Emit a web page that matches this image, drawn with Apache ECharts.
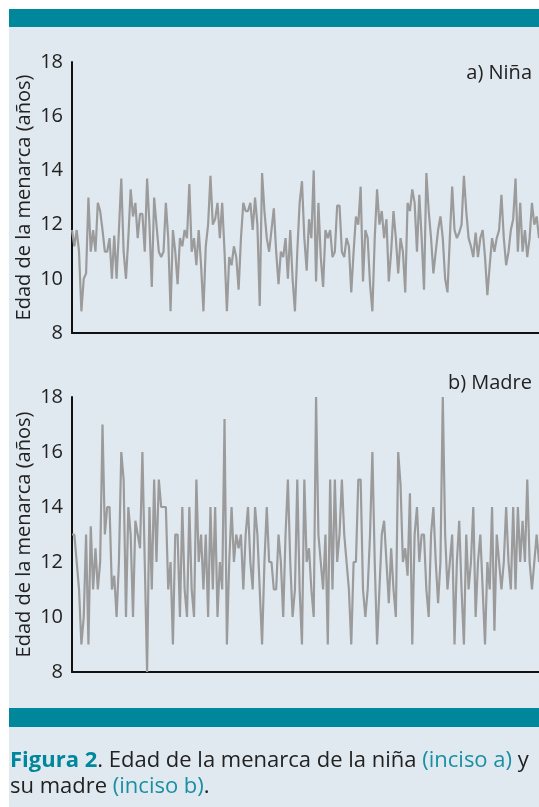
<!DOCTYPE html>
<html>
<head>
<meta charset="utf-8">
<script src="https://cdn.jsdelivr.net/npm/echarts@6/dist/echarts.min.js"></script>
<style>
  html, body { margin: 0; padding: 0; background: #fff; }
  #chart { width: 539px; height: 807px; }
</style>
</head>
<body>
<div id="chart"></div>
<script>
// edad de la menarca, niña (inciso a)
const ninaValues = [
  11.8, 11.2, 11.8, 11.0, 8.8, 10.0, 10.2, 13.0, 11.0, 11.8,
  11.0, 12.8, 12.5, 11.8, 11.0, 11.0, 11.5, 10.0, 11.6, 10.0,
  11.8, 13.7, 11.0, 10.0, 11.5, 13.3, 12.3, 12.8, 11.5, 12.4,
  12.4, 11.0, 13.7, 12.0, 9.7, 13.0, 12.0, 11.0, 10.8, 11.0,
  12.8, 11.5, 8.8, 11.8, 11.0, 9.8, 11.5, 11.2, 11.8, 11.5,
  13.5, 11.0, 11.5, 10.5, 11.8, 10.5, 8.8, 11.2, 12.0, 13.8,
  12.0, 12.2, 12.8, 11.5, 12.8, 11.0, 8.8, 10.8, 10.5, 11.2,
  10.8, 9.6, 11.5, 12.8, 12.5, 12.5, 12.8, 11.8, 13.0, 12.0,
  9.0, 13.9, 12.5, 11.5, 11.0, 11.8, 12.6, 11.0, 9.8, 11.0,
  10.8, 11.5, 10.0, 11.8, 10.0, 8.8, 11.0, 12.8, 13.6, 11.5,
  10.3, 12.2, 11.5, 14.0, 9.9, 12.8, 10.8, 9.7, 11.8, 11.5,
  11.8, 10.8, 11.0, 12.7, 12.7, 11.0, 10.8, 11.5, 11.2, 9.5,
  11.0, 12.3, 12.0, 13.4, 9.9, 11.8, 11.5, 9.8, 8.8, 11.5,
  13.3, 12.0, 12.5, 11.5, 12.2, 9.9, 11.0, 12.5, 11.5, 10.2,
  11.5, 11.0, 9.5, 12.8, 12.5, 13.3, 12.8, 11.0, 13.1, 11.5,
  9.6, 13.9, 12.5, 11.5, 10.2, 11.0, 11.8, 12.3, 11.5, 10.0,
  9.5, 11.5, 13.4, 11.8, 11.5, 11.7, 12.0, 13.8, 12.5, 11.5,
  11.2, 10.8, 11.7, 10.8, 11.5, 11.8, 10.8, 9.4, 10.5, 11.5,
  11.0, 11.5, 11.8, 13.1, 11.5, 10.5, 11.0, 11.8, 12.2, 13.7,
  11.0, 12.8, 11.0, 11.8, 10.8, 11.5, 12.8, 12.0, 12.3, 11.5
];

// edad de la menarca, madre (inciso b)
const madreValues = [
  13, 13, 12, 11, 9, 10, 13, 9, 13.3, 11,
  12.5, 11, 12, 17, 13, 14, 14, 11, 11.5, 10,
  12, 16, 15, 10, 14, 13, 10, 13.5, 13, 12.5,
  16, 12, 8, 14, 11, 15, 12, 15, 14, 14,
  14, 11, 12, 9, 13, 13, 10, 14, 11, 10,
  14, 11, 10, 15, 12, 13, 11, 13, 10, 14,
  11, 14, 10, 12, 11, 17.2, 9, 12, 14, 12,
  13, 12.5, 13, 11, 13, 14, 12, 11, 14, 13,
  11, 9, 12, 14, 12, 12, 11, 11, 13, 12,
  10, 13, 15, 12, 10, 11, 15, 11, 9, 15,
  12, 12.5, 11, 10, 18, 13, 12, 11, 13, 9,
  15, 11, 15, 12, 13, 15, 13, 12, 11, 9,
  12, 12, 15, 15, 11, 10, 11, 13, 16, 12,
  9, 11, 13, 13.5, 12, 10.5, 12.5, 11, 10, 16,
  14.8, 12, 12.5, 11.5, 14.5, 9, 13, 14, 12, 13,
  13, 11, 10, 13, 14, 12, 10.5, 12, 18, 13,
  11, 12, 13, 9, 12, 13.5, 11, 9, 13, 11,
  12, 14, 10, 12, 13, 11, 9, 12, 11, 14,
  9.5, 13, 12, 11, 12, 14, 12, 11, 14, 11,
  14, 12, 13.5, 12, 15, 12, 11, 12, 13, 12
];

const yTicks = [8, 10, 12, 14, 16, 18];
const panelLabels = ['a) Niña', 'b) Madre'];
const yAxisTitle = 'Edad de la menarca (años)';

const cats = ninaValues.map((v, i) => i + 1);
const teal = '#00879b';
const font = '"Open Sans", "Noto Sans", sans-serif';

const chart = echarts.init(document.getElementById('chart'));

function makeY(idx) {
  return {
    type: 'value', gridIndex: idx,
    min: yTicks[0], max: yTicks[yTicks.length - 1], interval: 2,
    name: yAxisTitle, nameLocation: 'middle', nameGap: 38, nameRotate: 90,
    nameMoveOverlap: false,
    nameTextStyle: { fontFamily: font, fontSize: 20, color: '#222' },
    axisLine: { show: true, lineStyle: { color: '#111', width: 2 } },
    axisTick: { show: false },
    splitLine: { show: false },
    axisLabel: { fontFamily: font, fontSize: 20, color: '#222', margin: 9 }
  };
}
function makeX(idx) {
  return {
    type: 'category', gridIndex: idx, data: cats, boundaryGap: false,
    axisLine: { show: true, lineStyle: { color: '#111', width: 2 } },
    axisTick: { show: false }, axisLabel: { show: false }, splitLine: { show: false }
  };
}
const lineStyle = { color: '#9b9b9b', width: 2.2 };

const option = {
  animation: false,
  backgroundColor: '#fff',
  graphic: [
    { type: 'rect', z: -10, shape: { x: 9, y: 9, width: 540, height: 800 }, style: { fill: '#e1e9f0' } },
    { type: 'rect', z: -9, shape: { x: 9, y: 9, width: 540, height: 18 }, style: { fill: teal } },
    { type: 'rect', z: -9, shape: { x: 9, y: 708, width: 540, height: 19 }, style: { fill: teal } },
    {
      type: 'text', z: 10,
      style: { text: panelLabels[0], font: '20px ' + font, fill: '#222', align: 'right', x: 532, y: 73, verticalAlign: 'middle' }
    },
    {
      type: 'text', z: 10,
      style: { text: panelLabels[1], font: '20px ' + font, fill: '#222', align: 'right', x: 532, y: 383, verticalAlign: 'middle' }
    },
    {
      type: 'text', z: 10,
      style: {
        x: 10, y: 748,
        text: '{b|Figura 2}{n|. Edad de la menarca de la niña }{t|(inciso a)}{n| y}\n{n|su madre }{t|(inciso b)}{n|.}',
        rich: {
          b: { font: 'bold 22px ' + font, fill: teal, lineHeight: 26 },
          n: { font: '22px ' + font, fill: '#222', lineHeight: 26 },
          t: { font: '22px ' + font, fill: '#1a8fa3', lineHeight: 26 }
        }
      }
    }
  ],
  grid: [
    { left: 72, right: 0, top: 62, height: 271 },
    { left: 72, right: 0, top: 397, height: 275 }
  ],
  xAxis: [makeX(0), makeX(1)],
  yAxis: [makeY(0), makeY(1)],
  series: [
    { type: 'line', xAxisIndex: 0, yAxisIndex: 0, data: ninaValues, showSymbol: false, lineStyle: lineStyle },
    { type: 'line', xAxisIndex: 1, yAxisIndex: 1, data: madreValues, showSymbol: false, lineStyle: lineStyle }
  ]
};
chart.setOption(option);
</script>
</body>
</html>
